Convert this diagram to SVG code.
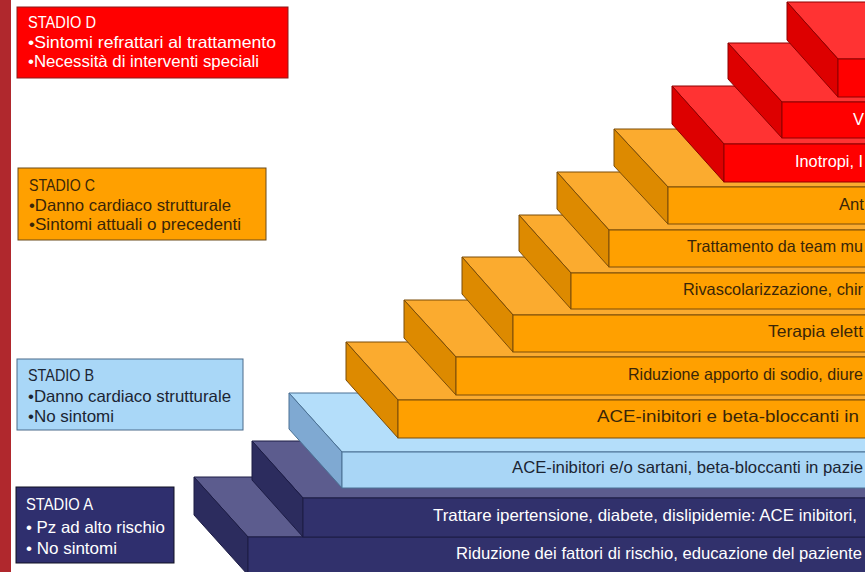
<svg xmlns="http://www.w3.org/2000/svg" width="865" height="572" viewBox="0 0 865 572">
<style>
text{font-family:"Liberation Sans",Arial,sans-serif;font-size:16.5px}
.nv .t{fill:#5C5C8E}.nv .s{fill:#2C2C5E}.nv .f{fill:#31316C}.nv polygon,.nv rect{stroke:#1c1c45;stroke-width:1}
.bl .t{fill:#B4DEFA}.bl .s{fill:#7FA9D2}.bl .f{fill:#A9D6F6}.bl polygon,.bl rect{stroke:#4a7194;stroke-width:1}
.or .t{fill:#FBAB2F}.or .s{fill:#DD8A00}.or .f{fill:#FFA000}.or polygon,.or rect{stroke:#7a4c08;stroke-width:1}
.rd .t{fill:#FF3333}.rd .s{fill:#DD0000}.rd .f{fill:#FF0000}.rd polygon,.rd rect{stroke:#8e0000;stroke-width:1}
.w{fill:#ffffff}.dk{fill:#3a2608}.db{fill:#1b2533}
</style>
<rect x="0" y="0" width="865" height="572" fill="#ffffff"/>
<rect x="0" y="0" width="11" height="572" fill="#B0282D"/>

<g id="step-a1" class="nv">
<polygon class="t" points="194,477 870,477 870,537 248,537"/>
<polygon class="s" points="194,477 248,537 248,575 194,515"/>
<rect class="f" x="248" y="537" width="622" height="40"/>
<text class="w" x="456" y="559" textLength="406" lengthAdjust="spacingAndGlyphs">Riduzione dei fattori di rischio, educazione del paziente</text>
</g>
<g id="step-a2" class="nv">
<polygon class="t" points="252,441 870,441 870,498 303,498"/>
<polygon class="s" points="252,441 303,498 303,537 252,480"/>
<rect class="f" x="303" y="498" width="567" height="39"/>
<text class="w" x="433" y="521" textLength="424" lengthAdjust="spacingAndGlyphs">Trattare ipertensione, diabete, dislipidemie: ACE inibitori,</text>
</g>
<g id="step-b" class="bl">
<polygon class="t" points="289,393 870,393 870,452 342,452"/>
<polygon class="s" points="289,393 342,452 342,488 289,429"/>
<rect class="f" x="342" y="452" width="528" height="36"/>
<text class="db" x="512" y="473" textLength="351" lengthAdjust="spacingAndGlyphs">ACE-inibitori e/o sartani, beta-bloccanti in pazie</text>
</g>
<g id="step-c1" class="or">
<polygon class="t" points="346,342 870,342 870,400 398,400"/>
<polygon class="s" points="346,342 398,400 398,438 346,380"/>
<rect class="f" x="398" y="400" width="472" height="38"/>
<text class="dk" x="597" y="422" textLength="262" lengthAdjust="spacingAndGlyphs">ACE-inibitori e beta-bloccanti in</text>
</g>
<g id="step-c2" class="or">
<polygon class="t" points="404,300 870,300 870,357 456,357"/>
<polygon class="s" points="404,300 456,357 456,395 404,338"/>
<rect class="f" x="456" y="357" width="414" height="38"/>
<text class="dk" x="628" y="380" textLength="235" lengthAdjust="spacingAndGlyphs">Riduzione apporto di sodio, diure</text>
</g>
<g id="step-c3" class="or">
<polygon class="t" points="462,257 870,257 870,315 513,315"/>
<polygon class="s" points="462,257 513,315 513,352 462,294"/>
<rect class="f" x="513" y="315" width="357" height="37"/>
<text class="dk" x="768" y="337" textLength="95" lengthAdjust="spacingAndGlyphs">Terapia elett</text>
</g>
<g id="step-c4" class="or">
<polygon class="t" points="519,215 870,215 870,273 571,273"/>
<polygon class="s" points="519,215 571,273 571,309 519,251"/>
<rect class="f" x="571" y="273" width="299" height="36"/>
<text class="dk" x="683" y="295" textLength="180" lengthAdjust="spacingAndGlyphs">Rivascolarizzazione, chir</text>
</g>
<g id="step-c5" class="or">
<polygon class="t" points="557,172 870,172 870,230 609,230"/>
<polygon class="s" points="557,172 609,230 609,267 557,209"/>
<rect class="f" x="609" y="230" width="261" height="37"/>
<text class="dk" x="687" y="252" textLength="176" lengthAdjust="spacingAndGlyphs">Trattamento da team mu</text>
</g>
<g id="step-c6" class="or">
<polygon class="t" points="614,129 870,129 870,187 668,187"/>
<polygon class="s" points="614,129 668,187 668,224 614,166"/>
<rect class="f" x="668" y="187" width="202" height="37"/>
<text class="dk" x="839" y="210" textLength="25" lengthAdjust="spacingAndGlyphs">Ant</text>
</g>
<g id="step-d1" class="rd">
<polygon class="t" points="672,86 870,86 870,144 724,144"/>
<polygon class="s" points="672,86 724,144 724,182 672,124"/>
<rect class="f" x="724" y="144" width="146" height="38"/>
<text class="w" x="795" y="167" textLength="68" lengthAdjust="spacingAndGlyphs">Inotropi, I</text>
</g>
<g id="step-d2" class="rd">
<polygon class="t" points="728,43 870,43 870,102 782,102"/>
<polygon class="s" points="728,43 782,102 782,138 728,79"/>
<rect class="f" x="782" y="102" width="88" height="36"/>
<text class="w" x="853" y="125">V</text>
</g>
<g id="step-d3" class="rd">
<polygon class="t" points="787,2 870,2 870,59 838,59"/>
<polygon class="s" points="787,2 838,59 838,97 787,40"/>
<rect class="f" x="838" y="59" width="32" height="38"/>
</g>

<g id="stadio-d">
<rect x="17" y="7" width="271" height="71" fill="#FF0000" stroke="#8B1A1A" stroke-width="1"/>
<text class="w" x="28" y="28" textLength="68" lengthAdjust="spacingAndGlyphs">STADIO D</text>
<text class="w" x="28" y="48" textLength="248" lengthAdjust="spacingAndGlyphs">•Sintomi refrattari al trattamento</text>
<text class="w" x="28" y="67" textLength="231" lengthAdjust="spacingAndGlyphs">•Necessità di interventi speciali</text>
</g>
<g id="stadio-c">
<rect x="18" y="168" width="248" height="72" fill="#FFA000" stroke="#6b4a1a" stroke-width="1"/>
<text class="dk" x="29" y="191" textLength="66" lengthAdjust="spacingAndGlyphs">STADIO C</text>
<text class="dk" x="29" y="211" textLength="202" lengthAdjust="spacingAndGlyphs">•Danno cardiaco strutturale</text>
<text class="dk" x="29" y="230" textLength="212" lengthAdjust="spacingAndGlyphs">•Sintomi attuali o precedenti</text>
</g>
<g id="stadio-b">
<rect x="17" y="359" width="226" height="71" fill="#A9D7F7" stroke="#4a6a8a" stroke-width="1"/>
<text class="db" x="28" y="381" textLength="66" lengthAdjust="spacingAndGlyphs">STADIO B</text>
<text class="db" x="28" y="402" textLength="203" lengthAdjust="spacingAndGlyphs">•Danno cardiaco strutturale</text>
<text class="db" x="28" y="422" textLength="86" lengthAdjust="spacingAndGlyphs">•No sintomi</text>
</g>
<g id="stadio-a">
<rect x="16" y="487" width="158" height="76" fill="#2F2F6E" stroke="#111122" stroke-width="1"/>
<text class="w" x="26" y="510" textLength="67" lengthAdjust="spacingAndGlyphs">STADIO A</text>
<text class="w" x="26" y="533" textLength="139" lengthAdjust="spacingAndGlyphs">• Pz ad alto rischio</text>
<text class="w" x="26" y="554" textLength="91" lengthAdjust="spacingAndGlyphs">• No sintomi</text>
</g>
</svg>
